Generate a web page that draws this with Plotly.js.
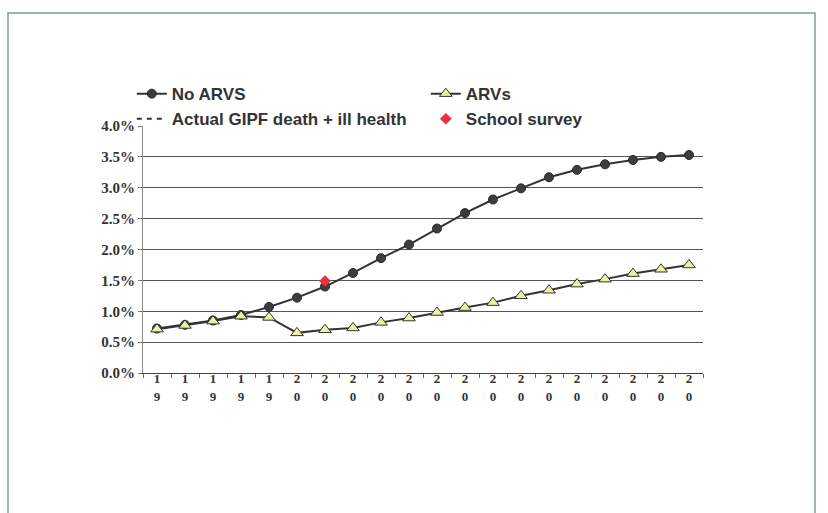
<!DOCTYPE html>
<html>
<head>
<meta charset="utf-8">
<script src="https://cdn.plot.ly/plotly-3.0.1.min.js"></script>
<style>html,body{margin:0;padding:0;background:#fff;}#chart{width:828px;height:513px;}</style>
</head>
<body>
<div id="chart"></div>
<script>
// Categories (years; the axis shows only their first two digits, stacked vertically)
const years = ["1995","1996","1997","1998","1999","2000","2001","2002","2003","2004",
               "2005","2006","2007","2008","2009","2010","2011","2012","2013","2014"];
const tickTop    = ["1","1","1","1","1","2","2","2","2","2","2","2","2","2","2","2","2","2","2","2"];
const tickBottom = ["9","9","9","9","9","0","0","0","0","0","0","0","0","0","0","0","0","0","0","0"];
const noArvs = [0.0072,0.0078,0.0085,0.0094,0.0107,0.0122,0.0140,0.0162,0.0186,0.0208,
                0.0234,0.0259,0.0281,0.0299,0.0317,0.0329,0.0338,0.0345,0.0350,0.0353];
const arvs   = [0.0071,0.0077,0.0084,0.0092,0.0090,0.0065,0.0070,0.0073,0.0082,0.0089,
                0.0098,0.0106,0.0114,0.0125,0.0134,0.0144,0.0152,0.0161,0.0168,0.0175];
const actualGipf = [null,null,null,null,null,null,null,null,null,null,
                    null,null,null,null,null,null,null,null,null,null];
const schoolYears = ["2001"];
const schoolSurvey = [0.0149];

const serif = "Liberation Serif";
const idx = years.map((_, i) => i);
const schoolIdx = schoolYears.map(y => years.indexOf(y));
const traces = [
  {x: years, y: noArvs, name: "No ARVS", type: "scatter", mode: "lines+markers",
   line: {color: "#333333", width: 2},
   marker: {symbol: "circle", size: 9, color: "#3d3d3d", line: {color: "#2a2a2a", width: 1}}},
  {x: years, y: arvs, name: "ARVs", type: "scatter", mode: "lines+markers",
   line: {color: "#333333", width: 2},
   marker: {symbol: "triangle-up", size: 11, color: "#eef0a2", line: {color: "#333333", width: 1}}},
  {x: years, y: actualGipf, name: "Actual GIPF death + ill health", type: "scatter", mode: "lines",
   line: {color: "#333333", width: 2, dash: "5px,5px"}},
  {x: schoolIdx, y: schoolSurvey, name: "School survey", type: "scatter", mode: "markers",
   xaxis: "x2", yaxis: "y",
   marker: {symbol: "diamond", size: 9, color: "#e8303f"}}
];

const layout = {
  width: 828, height: 513,
  margin: {l: 143, r: 125, t: 126, b: 140},
  paper_bgcolor: "#ffffff", plot_bgcolor: "#ffffff",
  showlegend: true,
  legend: {orientation: "h", x: -0.02, xanchor: "left", y: 1.202, yanchor: "top",
           entrywidth: 249, entrywidthmode: "pixels", tracegroupgap: 0,
           font: {family: "Liberation Sans", size: 17, color: "#333333", weight: "bold"},
           bgcolor: "rgba(0,0,0,0)"},
  xaxis: {type: "category", tickmode: "array", tickvals: years, ticktext: tickTop,
          range: [-0.5, years.length - 0.5],
          showgrid: false, zeroline: false, showline: true, linecolor: "#444444", linewidth: 1,
          ticks: "outside", tickson: "boundaries", ticklen: 4, tickcolor: "#666666",
          ticklabelstandoff: -7,
          tickfont: {family: serif, size: 13, color: "#333333", weight: "bold"},
          fixedrange: true},
  xaxis2: {overlaying: "x", anchor: "y", side: "bottom", type: "linear",
           range: [-0.5, years.length - 0.5], tickmode: "array", tickvals: idx, ticktext: tickBottom,
           showgrid: false, zeroline: false, showline: false, ticks: "", ticklabelstandoff: 14,
           tickfont: {family: serif, size: 13, color: "#333333", weight: "bold"},
           fixedrange: true},
  yaxis: {range: [0, 0.04], dtick: 0.005, tickformat: ".1%",
          showgrid: true, gridcolor: "#555555", gridwidth: 1, zeroline: false,
          showline: true, linecolor: "#888888", linewidth: 1,
          ticks: "outside", ticklen: 4, tickcolor: "#777777",
          tickfont: {family: serif, size: 15, color: "#333333", weight: "bold"},
          fixedrange: true},
  shapes: [
    {type: "rect", xref: "paper", yref: "paper",
     x0: -135/560, x1: (815-143)/560, y0: -(513-373+5)/247, y1: (373-13)/247,
     line: {color: "#7f9e95", width: 1.5}, fillcolor: "rgba(0,0,0,0)", layer: "below"}
  ]
};

Plotly.newPlot("chart", traces, layout, {displayModeBar: false, staticPlot: true});
</script>
</body>
</html>
